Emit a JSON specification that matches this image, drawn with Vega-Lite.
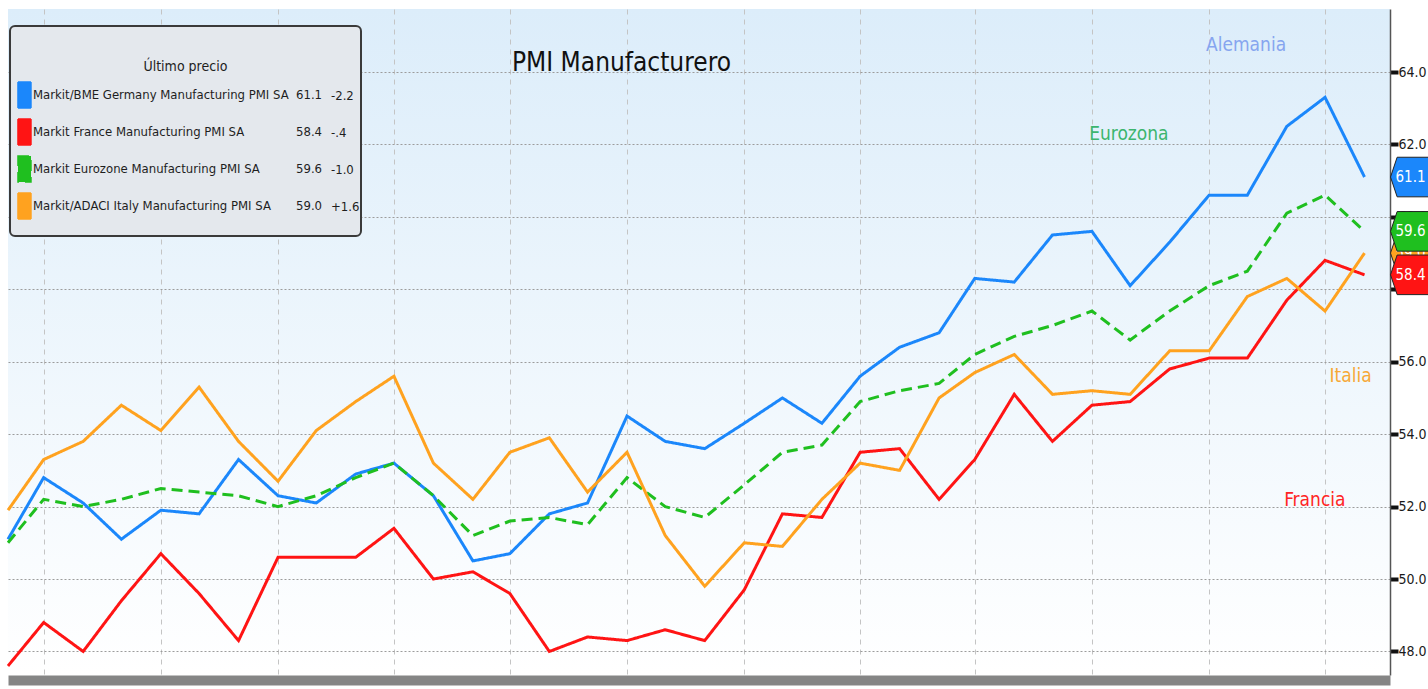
{
  "$schema": "https://vega.github.io/schema/vega-lite/v6.json",
  "width": 1382,
  "height": 666,
  "autosize": {"type": "none"},
  "padding": {"left": 8, "top": 9, "right": 38, "bottom": 14},
  "background": "#ffffff",
  "view": {"fill": {"gradient": "linear", "x1": 0, "y1": 0, "x2": 0, "y2": 1, "stops": [{"offset": 0, "color": "#dcedfa"}, {"offset": 1, "color": "#ffffff"}]}, "stroke": null},
  "title": {"text": "PMI Manufacturero", "anchor": "start", "frame": "group", "orient": "top", "offset": 0, "dx": 504, "dy": 88, "baseline": "alphabetic", "fontSize": 26, "fontWeight": "normal", "color": "#111111", "font": "Liberation Sans Narrow, DejaVu Sans Condensed, Liberation Sans, sans-serif"},
  "config": {
    "font": "Liberation Sans Narrow, DejaVu Sans Condensed, Liberation Sans, sans-serif",
    "axis": {"labelFont": "Liberation Sans Narrow, DejaVu Sans Condensed, Liberation Sans, sans-serif"},
    "legend": {"labelFont": "Liberation Sans Narrow, DejaVu Sans Condensed, Liberation Sans, sans-serif", "titleFont": "Liberation Sans Narrow, DejaVu Sans Condensed, Liberation Sans, sans-serif"},
    "text": {"font": "Liberation Sans Narrow, DejaVu Sans Condensed, Liberation Sans, sans-serif"}
  },
  "datasets": {
    "pmi": [
      {"fecha": "2015-02-01", "Alemania": 51.1, "Francia": 47.6, "Eurozona": 51.0, "Italia": 51.9},
      {"fecha": "2015-03-01", "Alemania": 52.8, "Francia": 48.8, "Eurozona": 52.2, "Italia": 53.3},
      {"fecha": "2015-04-01", "Alemania": 52.1, "Francia": 48.0, "Eurozona": 52.0, "Italia": 53.8},
      {"fecha": "2015-05-01", "Alemania": 51.1, "Francia": 49.4, "Eurozona": 52.2, "Italia": 54.8},
      {"fecha": "2015-06-01", "Alemania": 51.9, "Francia": 50.7, "Eurozona": 52.5, "Italia": 54.1},
      {"fecha": "2015-07-01", "Alemania": 51.8, "Francia": 49.6, "Eurozona": 52.4, "Italia": 55.3},
      {"fecha": "2015-08-01", "Alemania": 53.3, "Francia": 48.3, "Eurozona": 52.3, "Italia": 53.8},
      {"fecha": "2015-09-01", "Alemania": 52.3, "Francia": 50.6, "Eurozona": 52.0, "Italia": 52.7},
      {"fecha": "2015-10-01", "Alemania": 52.1, "Francia": 50.6, "Eurozona": 52.3, "Italia": 54.1},
      {"fecha": "2015-11-01", "Alemania": 52.9, "Francia": 50.6, "Eurozona": 52.8, "Italia": 54.9},
      {"fecha": "2015-12-01", "Alemania": 53.2, "Francia": 51.4, "Eurozona": 53.2, "Italia": 55.6},
      {"fecha": "2016-01-01", "Alemania": 52.3, "Francia": 50.0, "Eurozona": 52.3, "Italia": 53.2},
      {"fecha": "2016-02-01", "Alemania": 50.5, "Francia": 50.2, "Eurozona": 51.2, "Italia": 52.2},
      {"fecha": "2016-03-01", "Alemania": 50.7, "Francia": 49.6, "Eurozona": 51.6, "Italia": 53.5},
      {"fecha": "2016-04-01", "Alemania": 51.8, "Francia": 48.0, "Eurozona": 51.7, "Italia": 53.9},
      {"fecha": "2016-05-01", "Alemania": 52.1, "Francia": 48.4, "Eurozona": 51.5, "Italia": 52.4},
      {"fecha": "2016-06-01", "Alemania": 54.5, "Francia": 48.3, "Eurozona": 52.8, "Italia": 53.5},
      {"fecha": "2016-07-01", "Alemania": 53.8, "Francia": 48.6, "Eurozona": 52.0, "Italia": 51.2},
      {"fecha": "2016-08-01", "Alemania": 53.6, "Francia": 48.3, "Eurozona": 51.7, "Italia": 49.8},
      {"fecha": "2016-09-01", "Alemania": 54.3, "Francia": 49.7, "Eurozona": 52.6, "Italia": 51.0},
      {"fecha": "2016-10-01", "Alemania": 55.0, "Francia": 51.8, "Eurozona": 53.5, "Italia": 50.9},
      {"fecha": "2016-11-01", "Alemania": 54.3, "Francia": 51.7, "Eurozona": 53.7, "Italia": 52.2},
      {"fecha": "2016-12-01", "Alemania": 55.6, "Francia": 53.5, "Eurozona": 54.9, "Italia": 53.2},
      {"fecha": "2017-01-01", "Alemania": 56.4, "Francia": 53.6, "Eurozona": 55.2, "Italia": 53.0},
      {"fecha": "2017-02-01", "Alemania": 56.8, "Francia": 52.2, "Eurozona": 55.4, "Italia": 55.0},
      {"fecha": "2017-03-01", "Alemania": 58.3, "Francia": 53.3, "Eurozona": 56.2, "Italia": 55.7},
      {"fecha": "2017-04-01", "Alemania": 58.2, "Francia": 55.1, "Eurozona": 56.7, "Italia": 56.2},
      {"fecha": "2017-05-01", "Alemania": 59.5, "Francia": 53.8, "Eurozona": 57.0, "Italia": 55.1},
      {"fecha": "2017-06-01", "Alemania": 59.6, "Francia": 54.8, "Eurozona": 57.4, "Italia": 55.2},
      {"fecha": "2017-07-01", "Alemania": 58.1, "Francia": 54.9, "Eurozona": 56.6, "Italia": 55.1},
      {"fecha": "2017-08-01", "Alemania": 59.3, "Francia": 55.8, "Eurozona": 57.4, "Italia": 56.3},
      {"fecha": "2017-09-01", "Alemania": 60.6, "Francia": 56.1, "Eurozona": 58.1, "Italia": 56.3},
      {"fecha": "2017-10-01", "Alemania": 60.6, "Francia": 56.1, "Eurozona": 58.5, "Italia": 57.8},
      {"fecha": "2017-11-01", "Alemania": 62.5, "Francia": 57.7, "Eurozona": 60.1, "Italia": 58.3},
      {"fecha": "2017-12-01", "Alemania": 63.3, "Francia": 58.8, "Eurozona": 60.6, "Italia": 57.4},
      {"fecha": "2018-01-01", "Alemania": 61.1, "Francia": 58.4, "Eurozona": 59.6, "Italia": 59.0}
    ],
    "series": [
      {"serie": "Alemania", "indice": "Markit/BME Germany Manufacturing PMI SA", "ultimo": "61.1", "cambio": "-2.2"},
      {"serie": "Francia", "indice": "Markit France Manufacturing PMI SA", "ultimo": "58.4", "cambio": "-.4"},
      {"serie": "Eurozona", "indice": "Markit Eurozone Manufacturing PMI SA", "ultimo": "59.6", "cambio": "-1.0"},
      {"serie": "Italia", "indice": "Markit/ADACI Italy Manufacturing PMI SA", "ultimo": "59.0", "cambio": "+1.6"}
    ],
    "etiquetas": [
      {"serie": "Alemania", "fecha": "2017-09-30", "valor": 64.75},
      {"serie": "Eurozona", "fecha": "2017-06-30", "valor": 62.29},
      {"serie": "Italia", "fecha": "2017-12-21", "valor": 55.61},
      {"serie": "Francia", "fecha": "2017-11-23", "valor": 52.18}
    ]
  },
  "layer": [
    {
      "data": {"name": "pmi"},
      "transform": [
        {"fold": ["Alemania", "Francia", "Eurozona", "Italia"], "as": ["serie", "valor"]},
        {"lookup": "serie", "from": {"data": {"name": "series"}, "key": "serie", "fields": ["indice", "ultimo", "cambio"]}}
      ],
      "mark": {"type": "line", "interpolate": "linear"},
      "encoding": {
        "x": {
          "field": "fecha", "type": "temporal",
          "scale": {"type": "utc", "domain": [{"year": 2015, "month": 2, "date": 1, "utc": true}, {"year": 2018, "month": 1, "date": 21, "utc": true}]},
          "axis": {
            "title": null, "labels": false, "ticks": false,
            "values": [
              {"year": 2015, "month": 3, "date": 1, "utc": true}, {"year": 2015, "month": 6, "date": 1, "utc": true}, {"year": 2015, "month": 9, "date": 1, "utc": true}, {"year": 2015, "month": 12, "date": 1, "utc": true},
              {"year": 2016, "month": 3, "date": 1, "utc": true}, {"year": 2016, "month": 6, "date": 1, "utc": true}, {"year": 2016, "month": 9, "date": 1, "utc": true}, {"year": 2016, "month": 12, "date": 1, "utc": true},
              {"year": 2017, "month": 3, "date": 1, "utc": true}, {"year": 2017, "month": 6, "date": 1, "utc": true}, {"year": 2017, "month": 9, "date": 1, "utc": true}, {"year": 2017, "month": 12, "date": 1, "utc": true}
            ],
            "grid": true, "gridColor": "#c4c4c4", "gridDash": [5, 5], "gridWidth": 1,
            "domain": true, "domainColor": "#858585", "domainWidth": 10, "offset": 5
          }
        },
        "y": {
          "field": "valor", "type": "quantitative",
          "scale": {"domain": [47.35, 65.74], "nice": false, "zero": false},
          "axis": {
            "orient": "right", "title": null,
            "values": [48, 49, 50, 51, 52, 53, 54, 55, 56, 57, 58, 59, 60, 61, 62, 63, 64, 65],
            "labelExpr": "datum.value % 2 == 0 ? format(datum.value, '.1f') : ''",
            "labelOverlap": false, "labelFlush": false,
            "labelFontSize": 14, "labelColor": "#1a1a1a", "labelPadding": 0, "labelBaseline": "middle",
            "grid": true, "gridColor": "#9c9c9c", "gridDash": [2, 2], "gridWidth": 1,
            "gridOpacity": {"condition": {"test": "datum.value % 2 == 1", "value": 0}, "value": 1},
            "tickColor": "#111111",
            "tickSize": {"condition": {"test": "datum.value % 2 == 1", "value": 3}, "value": 8},
            "tickWidth": {"condition": {"test": "datum.value % 2 == 1", "value": 1.5}, "value": 4},
            "domainColor": "#555555", "domainWidth": 1.5
          }
        },
        "color": {
          "field": "indice", "type": "nominal",
          "scale": {"domain": ["Markit/BME Germany Manufacturing PMI SA", "Markit France Manufacturing PMI SA", "Markit Eurozone Manufacturing PMI SA", "Markit/ADACI Italy Manufacturing PMI SA"], "range": ["#1b87fb", "#ff1414", "#1fbf1f", "#ffa21f"]},
          "legend": {
            "orient": "none", "legendX": 2, "legendY": 17,
            "title": ["", "\u2800\u2003\u2003\u2003\u2003\u2003\u2003\u2003\u2003\u2002\u2005Último precio\u2005\u2002\u2003\u2003\u2003\u2003\u2003\u2003\u2003\u2003\u2800"], "titleAnchor": "start", "titleAlign": "left", "titleLimit": 1000,
            "titleFontSize": 14, "titleFontWeight": "normal", "titleColor": "#1e1e1e", "titleLineHeight": 20, "titlePadding": 7,
            "fillColor": "#e4e8ed", "strokeColor": "#3a3a3a", "cornerRadius": 5, "padding": 14,
            "symbolType": "M-1.54,-1H-0.54V1H-1.54Z", "symbolSize": 676, "symbolStrokeWidth": 1.5,
            "labelFontSize": 13, "labelColor": "#1e1e1e", "labelOffset": -19, "labelLimit": 600, "rowPadding": 5,
            "encode": {
              "legend": {"update": {"strokeWidth": {"value": 2}}},
              "symbols": {"update": {
                "fill": [{"test": "indexof(datum.value, 'Eurozone') >= 0", "value": "transparent"}, {"scale": "color", "field": "value"}],
                "strokeWidth": {"value": 1.5}
              }}
            }
          }
        },
        "strokeDash": {
          "field": "indice", "type": "nominal",
          "scale": {"domain": ["Markit/BME Germany Manufacturing PMI SA", "Markit France Manufacturing PMI SA", "Markit Eurozone Manufacturing PMI SA", "Markit/ADACI Italy Manufacturing PMI SA"], "range": [[1, 0], [1, 0], [11, 6], [1, 0]]}
        },
        "opacity": {
          "field": "ultimo", "type": "nominal",
          "scale": {"domain": ["61.1", "58.4", "59.6", "59.0"], "range": [1, 1]},
          "legend": {
            "orient": "none", "legendX": 265, "legendY": 17,
            "title": [" ", " "], "titleFontSize": 14, "titleLineHeight": 20, "titlePadding": 7, "padding": 14,
            "symbolType": "M-1.54,-1H-0.54V1H-1.54Z", "symbolSize": 676, "symbolStrokeWidth": 1.5,
            "symbolFillColor": "transparent", "symbolStrokeColor": "transparent",
            "labelFontSize": 13, "labelColor": "#1e1e1e", "labelOffset": -19, "rowPadding": 5,
            "encode": {"symbols": {"update": {"fill": {"value": "transparent"}, "stroke": {"value": "transparent"}}}}
          }
        },
        "strokeWidth": {
          "field": "cambio", "type": "nominal",
          "scale": {"domain": ["-2.2", "-.4", "-1.0", "+1.6"], "range": [3, 3]},
          "legend": {
            "orient": "none", "legendX": 299, "legendY": 17,
            "title": [" ", " "], "titleFontSize": 14, "titleLineHeight": 20, "titlePadding": 7, "padding": 14,
            "symbolType": "M-1.54,-1H-0.54V1H-1.54Z", "symbolSize": 676, "symbolStrokeWidth": 1.5,
            "symbolFillColor": "transparent", "symbolStrokeColor": "transparent",
            "labelFontSize": 13, "labelColor": "#1e1e1e", "labelOffset": -19, "rowPadding": -2,
            "encode": {"symbols": {"update": {"fill": {"value": "transparent"}, "stroke": {"value": "transparent"}}}}
          }
        }
      }
    },
    {
      "data": {"name": "pmi"},
      "transform": [
        {"fold": ["Alemania", "Francia", "Eurozona", "Italia"], "as": ["serie", "valor"]},
        {"lookup": "serie", "from": {"data": {"name": "series"}, "key": "serie", "fields": ["indice"]}},
        {"filter": "utcyear(datum.fecha) == 2018"}
      ],
      "layer": [
        {
          "transform": [{"filter": "datum.serie == 'Italia'"}],
          "mark": {"type": "point", "shape": "M-1,0L-0.7,-0.9H1.2V0.9H-0.7Z", "size": 1936, "filled": true, "opacity": 1, "stroke": "#222222", "strokeWidth": 1, "xOffset": 48},
          "encoding": {
            "x": {"field": "fecha", "type": "temporal"},
            "y": {"field": "valor", "type": "quantitative"},
            "color": {"field": "indice", "type": "nominal", "legend": null}
          }
        },
        {
          "transform": [{"filter": "datum.serie == 'Italia'"}],
          "mark": {"type": "text", "xOffset": 46, "fontSize": 15, "color": "#ffffff", "baseline": "middle", "align": "center"},
          "encoding": {
            "x": {"field": "fecha", "type": "temporal"},
            "y": {"field": "valor", "type": "quantitative"},
            "text": {"field": "valor", "type": "quantitative", "format": ".1f"}
          }
        },
        {
          "transform": [{"filter": "datum.serie != 'Italia'"}],
          "mark": {"type": "point", "shape": "M-1,0L-0.7,-0.9H1.2V0.9H-0.7Z", "size": 1936, "filled": true, "opacity": 1, "stroke": "#222222", "strokeWidth": 1, "xOffset": 48},
          "encoding": {
            "x": {"field": "fecha", "type": "temporal"},
            "y": {"field": "valor", "type": "quantitative"},
            "color": {"field": "indice", "type": "nominal", "legend": null}
          }
        },
        {
          "transform": [{"filter": "datum.serie != 'Italia'"}],
          "mark": {"type": "text", "xOffset": 46, "fontSize": 15, "color": "#ffffff", "baseline": "middle", "align": "center"},
          "encoding": {
            "x": {"field": "fecha", "type": "temporal"},
            "y": {"field": "valor", "type": "quantitative"},
            "text": {"field": "valor", "type": "quantitative", "format": ".1f"}
          }
        }
      ]
    },
    {
      "data": {"name": "etiquetas"},
      "mark": {"type": "text", "fontSize": 19, "baseline": "middle", "align": "center"},
      "encoding": {
        "x": {"field": "fecha", "type": "temporal"},
        "y": {"field": "valor", "type": "quantitative"},
        "text": {"field": "serie", "type": "nominal"},
        "fill": {"field": "serie", "type": "nominal", "scale": {"domain": ["Alemania", "Eurozona", "Italia", "Francia"], "range": ["#86a5ef", "#3cb56e", "#f7a835", "#ff2424"]}, "legend": null}
      }
    }
  ]
}
